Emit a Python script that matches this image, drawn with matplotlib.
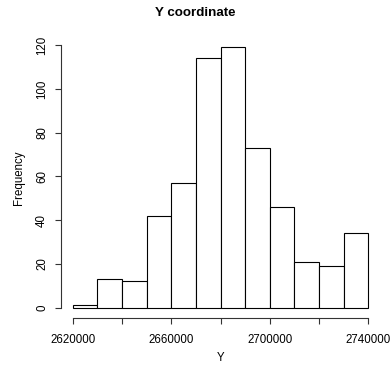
import numpy as np
import matplotlib
matplotlib.use("Agg")
import matplotlib.pyplot as plt

plt.rcParams['font.family'] = ['Liberation Sans', 'DejaVu Sans']

# histogram of Y coordinate
bin_edges = np.arange(2620000, 2740001, 10000)
counts = [1, 13, 12, 42, 57, 114, 119, 73, 46, 21, 19, 34]
xticks = [2620000, 2640000, 2660000, 2680000, 2700000, 2720000, 2740000]
xticklabels = ['2620000', '', '2660000', '', '2700000', '', '2740000']
yticks = [0, 20, 40, 60, 80, 100, 120]

fig = plt.figure(figsize=(3.9, 3.71), dpi=100)
ax = fig.add_axes([61 / 390, 53 / 371, 319 / 390, 281 / 371])

widths = np.diff(bin_edges)
ax.bar(bin_edges[:-1], counts, width=widths, align='edge',
       facecolor='white', edgecolor='black', linewidth=0.8)

# R style limits (4% padding)
xr = bin_edges[-1] - bin_edges[0]
ax.set_xlim(bin_edges[0] - 0.04 * xr, bin_edges[-1] + 0.04 * xr)
ax.set_ylim(-0.04 * max(counts), max(counts) * 1.04)

for s in ['top', 'right']:
    ax.spines[s].set_visible(False)
ax.spines['left'].set_bounds(0, 120)
ax.spines['bottom'].set_bounds(xticks[0], xticks[-1])
for s in ['left', 'bottom']:
    ax.spines[s].set_linewidth(0.8)
    ax.spines[s].set_color('#333333')

ax.set_xticks(xticks)
ax.set_xticklabels(xticklabels, fontsize=8.3)
ax.set_yticks(yticks)
ax.set_yticklabels([str(v) for v in yticks], fontsize=8.3, rotation=90, va='center')
ax.tick_params(axis='x', length=4.3, width=0.8, pad=7.5, color='#333333')
ax.tick_params(axis='y', length=4.3, width=0.8, pad=5, color='#333333')

ax.set_xlabel('Y', fontsize=8.3, labelpad=4)
ax.set_ylabel('Frequency', fontsize=8.3, labelpad=8)
fig.text(0.5, 1 - 13 / 371, 'Y coordinate', ha='center', va='center',
         fontsize=9.6, fontweight='bold')

fig.savefig('out.png', dpi=100)
